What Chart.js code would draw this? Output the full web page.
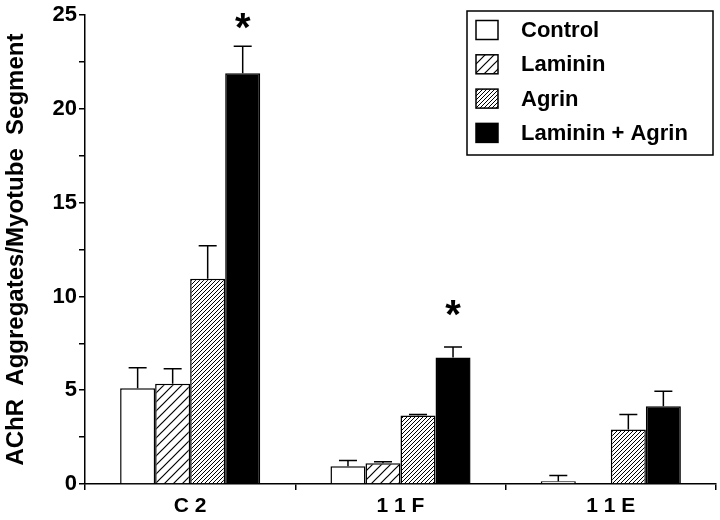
<!DOCTYPE html>
<html>
<head>
<meta charset="utf-8">
<script src="https://cdn.jsdelivr.net/npm/chart.js@4.4.0/dist/chart.umd.min.js"></script>
<style>
  html, body { margin: 0; padding: 0; background: #fff; }
  #wrap { width: 720px; height: 520px; position: relative; }
</style>
</head>
<body>
<div id="wrap"><canvas id="aggChart"></canvas></div>
<script>
// --- Data ---
const cellLines = ['C 2', '1 1 F', '1 1 E'];
const treatments = ['Control', 'Laminin', 'Agrin', 'Laminin + Agrin'];

const controlMean = [5.1, 0.95, 0.15];
const lamininMean = [5.35, 1.1, 0.05];
const agrinMean = [10.95, 3.65, 2.9];
const bothMean = [21.9, 6.75, 4.15];

// upward error bars (SEM)
const controlErr = [1.1, 0.3, 0.3];
const lamininErr = [0.8, 0.08, 0];
const agrinErr = [1.75, 0.06, 0.8];
const bothErr = [1.45, 0.56, 0.8];

// significance markers (*) above the Laminin + Agrin bars, at this level
const starLevel = [24.7, 9.4, null];

const yMin = 0;
const yMax = 25;
const yStep = 2.5;   // minor ticks every 2.5, labels every 5

const FONT = "'Liberation Sans', Arial, Helvetica, sans-serif";
Chart.defaults.font.family = FONT;
Chart.defaults.color = '#000';

// --- Hatch patterns ---
function makeHatch(ctx, period, lw) {
    const c = document.createElement('canvas');
    c.width = period;
    c.height = period;
    const g = c.getContext('2d');
    g.fillStyle = '#fff';
    g.fillRect(0, 0, period, period);
    g.strokeStyle = '#000';
    g.lineWidth = lw;
    g.beginPath();
    g.moveTo(-1, period + 1); g.lineTo(period + 1, -1);
    g.moveTo(-2, 2); g.lineTo(2, -2);
    g.moveTo(period - 2, period + 2); g.lineTo(period + 2, period - 2);
    g.stroke();
    return ctx.createPattern(c, 'repeat');
}

const canvas = document.getElementById('aggChart');
const ctx = canvas.getContext('2d');
const sparseHatch = makeHatch(ctx, 9, 1.2);
const denseHatch = makeHatch(ctx, 4, 1);

const fills = ['#ffffff', sparseHatch, denseHatch, '#000000'];
const means = [controlMean, lamininMean, agrinMean, bothMean];
const errs = [controlErr, lamininErr, agrinErr, bothErr];

// --- Error bars + asterisks ---
const errorBarPlugin = {
    id: 'errorBars',
    afterDatasetsDraw(chart) {
        const c = chart.ctx;
        const y = chart.scales.y;
        c.save();
        c.strokeStyle = '#000';
        c.lineWidth = 1.5;
        chart.data.datasets.forEach((ds, di) => {
            const meta = chart.getDatasetMeta(di);
            meta.data.forEach((bar, i) => {
                const e = errs[di][i];
                if (!e) return;
                const top = y.getPixelForValue(means[di][i] + e);
                c.beginPath();
                c.moveTo(bar.x, bar.y);
                c.lineTo(bar.x, top);
                c.moveTo(bar.x - 9, top);
                c.lineTo(bar.x + 9, top);
                c.stroke();
            });
        });
        // stars, centred on their level
        const meta = chart.getDatasetMeta(3);
        c.fillStyle = '#000';
        c.font = 'bold 40px ' + FONT;
        c.textAlign = 'center';
        c.textBaseline = 'alphabetic';
        const m = c.measureText('*');
        const shift = (m.actualBoundingBoxAscent - m.actualBoundingBoxDescent) / 2;
        meta.data.forEach((bar, i) => {
            if (starLevel[i] == null) return;
            c.fillText('*', bar.x, y.getPixelForValue(starLevel[i]) + shift);
        });
        c.restore();
    }
};

// --- Boxed legend, top right ---
const boxLegend = {
    id: 'boxLegend',
    afterDraw(chart) {
        const c = chart.ctx;
        const area = chart.chartArea;
        const left = area.right - 249;
        const top = 11;
        const w = 246, h = 144;
        c.save();
        c.fillStyle = '#fff';
        c.fillRect(left, top, w, h);
        c.strokeStyle = '#000';
        c.lineWidth = 1.5;
        c.strokeRect(left, top, w, h);
        c.font = 'bold 22px ' + FONT;
        c.textBaseline = 'middle';
        c.textAlign = 'left';
        chart.data.datasets.forEach((ds, i) => {
            const cy = top + 19 + i * 34.3;
            c.fillStyle = ds.backgroundColor;
            c.fillRect(left + 9, cy - 9.5, 22, 19);
            c.lineWidth = 1.5;
            c.strokeRect(left + 9, cy - 9.5, 22, 19);
            c.fillStyle = '#000';
            c.fillText(ds.label, left + 54, cy + 1);
        });
        c.restore();
    }
};

new Chart(ctx, {
    type: 'bar',
    data: {
        labels: cellLines,
        datasets: treatments.map((t, i) => ({
            label: t,
            data: means[i],
            backgroundColor: fills[i],
            borderColor: '#000',
            borderWidth: 1.5,
            categoryPercentage: 0.666,
            barPercentage: 1.0
        }))
    },
    options: {
        responsive: true,
        maintainAspectRatio: false,
        animation: false,
        layout: { padding: { top: 9, right: 4, left: 0, bottom: 0 } },
        plugins: {
            legend: { display: false },
            tooltip: { enabled: false }
        },
        scales: {
            x: {
                grid: { offset: true, drawOnChartArea: false, color: '#000', lineWidth: 1.5, tickLength: 6 },
                border: { color: '#000', width: 1.5 },
                ticks: { color: '#000', font: { size: 21, weight: 'bold' }, padding: 4 },
                afterFit(s) { s.height = 36; }
            },
            y: {
                min: yMin,
                max: yMax,
                ticks: {
                    stepSize: yStep,
                    color: '#000',
                    font: { size: 22, weight: 'bold' },
                    padding: 2,
                    callback: v => (v % 5 === 0 ? v : '')
                },
                grid: { drawOnChartArea: false, color: '#000', lineWidth: 1.5, tickLength: 6 },
                border: { color: '#000', width: 1.5 },
                title: {
                    display: true,
                    text: 'AChR  Aggregates/Myotube  Segment',
                    color: '#000',
                    font: { size: 24, weight: 'bold' },
                    padding: { top: 2, bottom: 0 }
                },
                afterFit(s) { s.width = 85; }
            }
        }
    },
    plugins: [errorBarPlugin, boxLegend]
});
</script>
</body>
</html>
